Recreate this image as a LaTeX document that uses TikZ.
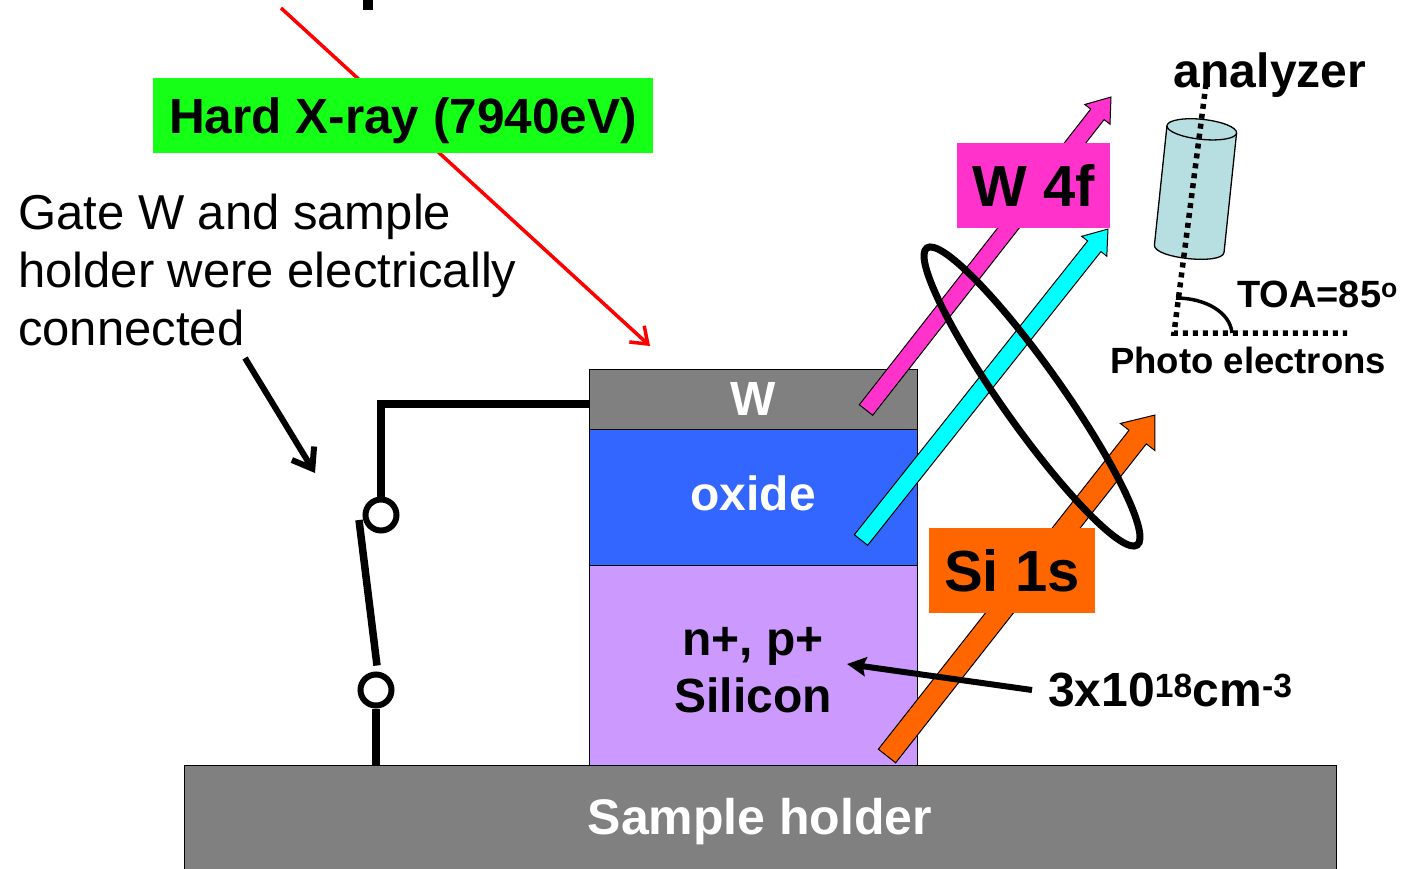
\documentclass[tikz,border=0pt]{standalone}
\usepackage{fontspec}
\setmainfont{Liberation Sans}
\usetikzlibrary{arrows.meta,calc,shapes.geometric}

\definecolor{holdergray}{RGB}{128,128,128}
\definecolor{oxideblue}{RGB}{51,102,255}
\definecolor{sililac}{RGB}{204,153,255}
\definecolor{xgreen}{RGB}{22,255,22}
\definecolor{wmag}{RGB}{255,51,204}
\definecolor{oxcyan}{RGB}{0,255,255}
\definecolor{siorange}{RGB}{255,102,0}
\definecolor{anablue}{RGB}{183,222,225}

\newcommand\bigbold{\fontsize{48}{57}\selectfont\bfseries}
\newcommand\hugebold{\fontsize{58}{66}\selectfont\bfseries}

% block arrow: fill colour, tail, tip, half shaft width, half head width, head length
\newcommand\blockarrow[6]{%
  \path let \p1=($(#3)-(#2)$) in
    \pgfextra{\pgfmathsetmacro\baang{atan2(\y1,\x1)}%
              \pgfmathsetmacro\balen{veclen(\x1,\y1)}%
              \global\let\baang\baang\global\let\balen\balen};
  \draw[line width=1pt, fill=#1, line join=miter, shift={(#2)}, rotate=\baang]
    (0,#4) -- (\balen-#6,#4) -- (\balen-#6,#5) -- (\balen,0)
    -- (\balen-#6,-#5) -- (\balen-#6,-#4) -- (0,-#4) -- cycle;
}

\begin{document}
\begin{tikzpicture}[x=1pt,y=-1pt,
  layer/.style={draw=black, line width=1pt, minimum width=328pt, inner sep=0pt},
  tag/.style={inner sep=0pt, font=\hugebold, text=black},
  wire/.style={line width=7.5pt, line join=miter},
  terminal/.style={circle, draw, fill=white, line width=6pt, minimum size=31pt, inner sep=0pt},
  xray/.style={red, line width=3.5pt, -{Straight Barb[length=15pt,width=22pt]}},
  callout/.style={line width=6pt, -{Straight Barb[length=18pt,width=26pt]}},
  pointer/.style={line width=6pt, -{Stealth[length=19pt,width=19pt,inset=3pt]}},
  dotline/.style={line width=5.5pt, dash pattern=on 5pt off 5pt},
]
\useasboundingbox (0,0) rectangle (1414,868);

% incoming hard X-ray
\coordinate (xsrc) at (281,8);
\coordinate (xhit) at (650,346);
\draw[xray] (xsrc) -- (xhit);
\node[fill=xgreen, minimum width=500pt, minimum height=75pt, inner sep=0pt]
  (xlabel) at (403,115.5) {};
\node[inner sep=0pt, font=\fontsize{49.5}{57}\selectfont\bfseries] (xtext) at (403,120.5)
  {Hard X-ray (7940eV)};

% piece of a glyph from the line above
\fill (363,0) rectangle (373,10);

% note about the electrical connection
\node[anchor=north west, inner sep=0pt, align=left,
      font=\fontsize{49}{58}\selectfont] (note) at (18,194)
  {Gate W and sample\\holder were electrically\\connected};
\coordinate (calloutfrom) at (245,358);
\coordinate (callouttip) at (315,473);
\draw[callout] (calloutfrom) -- (callouttip);

% sample holder and the layer stack
\node[draw=black, line width=1pt, fill=holdergray, minimum width=1152pt,
      minimum height=114pt, inner sep=0pt, text=white,
      font=\fontsize{50}{58}\selectfont\bfseries]
  (holder) at (760,822) {Sample holder};
\node[layer, fill=sililac, minimum height=200pt] (silicon) at (753,665) {};
\node[layer, fill=oxideblue, minimum height=136pt] (oxide) at (753,497) {};
\node[layer, fill=holdergray, minimum height=60pt, text=white, font=\bigbold]
  (wlayer) at (753,399) {W};
\node[font=\bigbold, text=white, inner sep=0pt] (oxidetext) at (753,493) {oxide};
\node[font=\bigbold, align=center, inner sep=0pt] (sitext) at (753,670)
  {n+, p+\\Silicon};

% wire and switch
\node[terminal] (sw1) at (381,515) {};
\node[terminal] (sw2) at (376,690) {};
\coordinate (levertop) at (359,520);
\draw[wire] ([yshift=-5pt]wlayer.west) -| (sw1.north);
\draw[wire] (levertop) -- ([xshift=1pt,yshift=6pt]sw2.north);
\draw[wire] (sw2.south) -- (sw2.south |- holder.north);

% photoelectron arrows
\coordinate (mtail) at (866,410);  \coordinate (mtip) at (1111,97);
\coordinate (ctail) at (861,540);  \coordinate (ctip) at (1108,229);
\coordinate (otail) at (887,756);  \coordinate (otip) at (1155,415);
\blockarrow{wmag}{mtail}{mtip}{8.5}{16}{22}
\blockarrow{oxcyan}{ctail}{ctip}{8.5}{16}{22}
\blockarrow{siorange}{otail}{otip}{11}{22}{28}

\node[tag, fill=wmag, minimum width=153pt, minimum height=85pt] (w4f) at (1033.5,185.5) {W 4f};
\node[tag, fill=siorange, minimum width=166pt, minimum height=85pt] (si1s) at (1012,570.5) {Si 1s};

% ring around the emitted electrons
\node[ellipse, draw, line width=7pt, minimum width=364pt, minimum height=60pt,
      inner sep=0pt, rotate=-54.7] (ring) at (1032,396.5) {};

% doping level
\node[anchor=west, inner xsep=16pt, inner ysep=0pt, font=\bigbold] (dop) at (1032,690)
  {3x10\textsuperscript{18}cm\textsuperscript{-3}};
\coordinate (sitarget) at (847,664);
\draw[pointer] (dop.west) -- (sitarget);

% analyzer
\begin{scope}[shift={(1195.5,189)}, rotate=-6]
  \fill[anablue] (-35,-60) -- (-35,60) .. controls (-35,73.3) and (35,73.3) .. (35,60) -- (35,-60) -- cycle;
  \draw[line width=1.3pt] (-35,-60) -- (-35,60) .. controls (-35,73.3) and (35,73.3) .. (35,60) -- (35,-60);
  \draw[line width=1.3pt, fill=anablue] (0,-60) ellipse [x radius=35, y radius=10];
\end{scope}
\node[anchor=base, inner sep=0pt, font=\bigbold] (analyzer) at (1270,87) {analyzer};
\coordinate (axistop) at (1206,84);
\coordinate (axisfoot) at (1174,333);
\coordinate (axisend) at (1347,333);
\draw[dotline] (axistop) -- (axisfoot) -- (axisend);
\coordinate (arcstart) at (1176,298);
\coordinate (arcend) at (1232,333);
\draw[line width=3.5pt] (arcstart) .. controls (1205,298) and (1230,312) .. (arcend);
\node[anchor=base west, inner sep=0pt, font=\fontsize{38}{44}\selectfont\bfseries] (toa) at (1237,307)
  {TOA=85\textsuperscript{o}};
\node[anchor=base west, inner sep=0pt, font=\fontsize{36.5}{42}\selectfont\bfseries] (photo) at (1110,373)
  {Photo electrons};
\end{tikzpicture}
\end{document}
